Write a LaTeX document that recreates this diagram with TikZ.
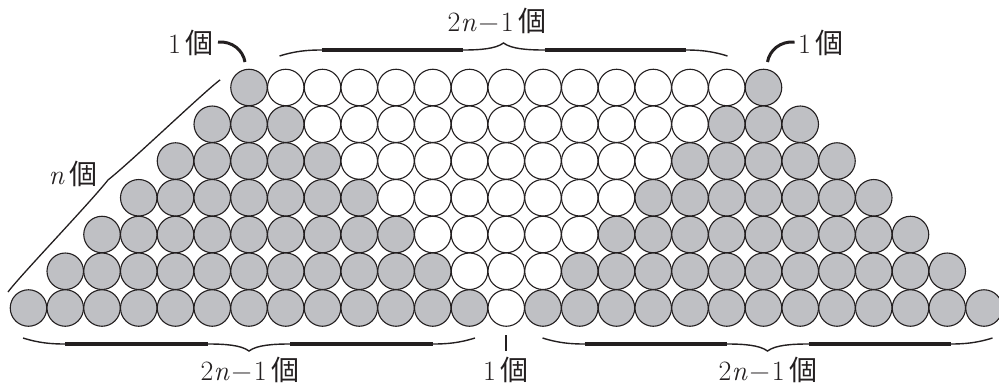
\documentclass[tikz,border=0pt]{standalone}
\usepackage{fontspec}
\newfontfamily\cjk{Noto Sans CJK JP}
\definecolor{ballgray}{RGB}{191,192,196}
\definecolor{ink}{RGB}{35,31,32}
\tikzset{
  ball/.style={circle, draw=ink, line width=1.1pt, minimum size=36.5pt, inner sep=0pt},
  lbl/.style={inner sep=0pt, text=ink, font=\fontsize{28}{31}\selectfont},
  thinbr/.style={draw=ink, line width=1.4pt},
  thickbr/.style={draw=ink, line width=4.5pt},
  hookline/.style={draw=ink, line width=3pt},
  slbr/.style={draw=ink, line width=1.3pt},
}
\newcommand\tnm{2\textit{n}\kern2pt−\kern2pt1}
% center x, baseline y, half length, direction (1: tip down, -1: tip up)
\newcommand\mybrace[4]{%
  \begin{scope}[shift={(#1,#2)},yscale=#4]
    \draw[thinbr] (-#3,-6) .. controls (-#3+16,-1) and (-#3+28,0) .. (-#3+42,0)
      -- (-41,0) .. controls (-24,0) and (-8,1) .. (0,7)
      .. controls (8,1) and (24,0) .. (41,0) -- (#3-42,0)
      .. controls (#3-28,0) and (#3-16,-1) .. (#3,-6);
    \draw[thickbr] (-#3+42,0) -- (-41,0) (41,0) -- (#3-42,0);
  \end{scope}}
\begin{document}
\begin{tikzpicture}[x=1pt,y=-1pt]
\useasboundingbox (0,0) rectangle (999,386);
% balls
\foreach \r in {0,...,6} {
  \pgfmathtruncatemacro\m{7+\r}
  \pgfmathtruncatemacro\w{6-\r}
  \foreach \j in {-\m,...,\m} {
    \pgfmathtruncatemacro\aj{abs(\j)}
    \pgfmathtruncatemacro\k{\j+13}
    \ifnum\aj>\w\relax \def\col{ballgray}\else\def\col{white}\fi
    \node[ball, fill=\col] (c-\r-\k) at ({506.25+36.75*\j},{87.5+36.75*\r}) {};
  }
}
% braces
\mybrace{503.5}{50}{224}{-1}
\mybrace{249}{344}{226}{1}
\mybrace{767.5}{344}{225}{1}
% slanted brace
\begin{scope}[shift={(8,292)},rotate=45]
  \draw[slbr] (0,0) .. controls (20,-3) and (120,-5) .. (150,-8.5)
    .. controls (180,-5) and (280,-3) .. (300,0);
\end{scope}
% labels
\node[lbl] (ttop) at (497,21) {\tnm\,{\cjk 個}};
\node[lbl] (tl) at (191,43) {1\,{\cjk 個}};
\node[lbl] (tr) at (821,43) {1\,{\cjk 個}};
\node[lbl] (tn) at (73,174) {\textit{n}\,{\cjk 個}};
\node[lbl] (bl) at (250,370) {\tnm\,{\cjk 個}};
\node[lbl] (bm) at (506,370) {1\,{\cjk 個}};
\node[lbl] (br) at (768,370) {\tnm\,{\cjk 個}};
% hooks
\coordinate (h1s) at (218,42);
\coordinate (h1e) at (245,62);
\coordinate (h2s) at (794.5,42);
\coordinate (h2e) at (767.5,62);
\draw[hookline] (h1s) .. controls (232,41) and (243,50) .. (h1e);
\draw[hookline] (h2s) .. controls (780.5,41) and (769.5,50) .. (h2e);
% tick
\coordinate (tk1) at (506,335);
\coordinate (tk2) at (506,351);
\draw[draw=ink, line width=2pt] (tk1) -- (tk2);
\end{tikzpicture}
\end{document}
